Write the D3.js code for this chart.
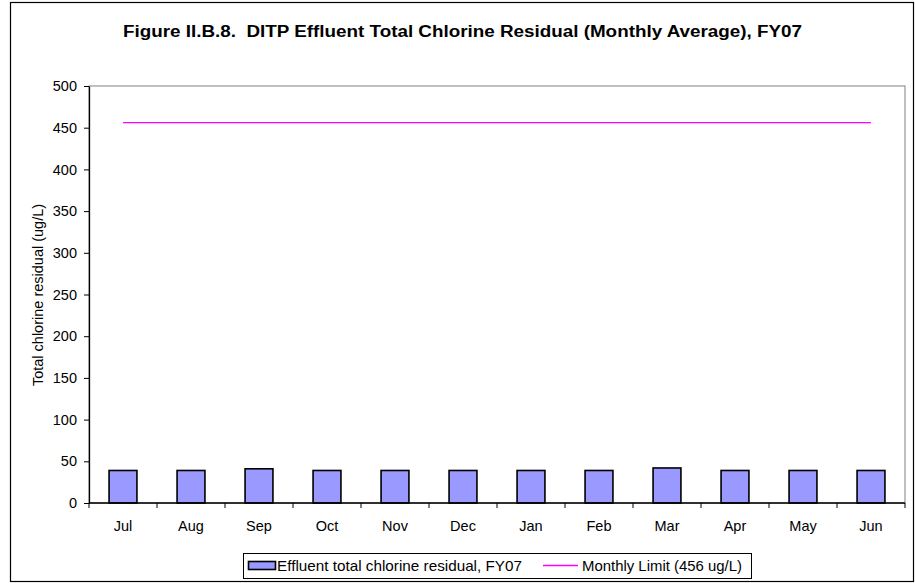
<!DOCTYPE html>
<html>
<head>
<meta charset="utf-8">
<script src="https://cdn.jsdelivr.net/npm/d3@7"></script>
<style>
  body { margin: 0; background: #fff; }
  text { font-family: "Liberation Sans", Arial, sans-serif; white-space: pre; }
</style>
</head>
<body>
<script>
// chart data
var months = ["Jul", "Aug", "Sep", "Oct", "Nov", "Dec", "Jan", "Feb", "Mar", "Apr", "May", "Jun"];
var chlorine = [39, 39, 41, 39, 39, 39, 39, 39, 42, 39, 39, 39];
var monthlyLimit = [456, 456, 456, 456, 456, 456, 456, 456, 456, 456, 456, 456];
var yTicks = [0, 50, 100, 150, 200, 250, 300, 350, 400, 450, 500];

var W = 915, H = 583;
var margin = { top: 86, right: 10, bottom: 80, left: 89 },
    width = W - margin.left - margin.right,
    height = 503 - margin.top;

var svg = d3.select("body").append("svg")
    .attr("width", W)
    .attr("height", H);

// outer frame
svg.append("rect")
    .attr("x", 10.5).attr("y", 2.5)
    .attr("width", 903).attr("height", 579)
    .attr("fill", "#fff").attr("stroke", "#000").attr("stroke-width", 1.2);

svg.append("text")
    .attr("x", 123).attr("y", 37)
    .attr("textLength", 679)
    .attr("lengthAdjust", "spacingAndGlyphs")
    .style("font-size", "16px").style("font-weight", "bold")
    .text("Figure II.B.8.  DITP Effluent Total Chlorine Residual (Monthly Average), FY07");

var g = svg.append("g")
    .attr("transform", "translate(" + margin.left + "," + margin.top + ")");

var x = d3.scaleBand().domain(months).range([0, width]);
var y = d3.scaleLinear().domain([0, 500]).range([height, 0]);

// plot area border (gray)
g.append("rect")
    .attr("x", 0).attr("y", 0)
    .attr("width", width).attr("height", height)
    .attr("fill", "none").attr("stroke", "#808080").attr("stroke-width", 1);

// bars
g.selectAll(".bar")
    .data(chlorine)
    .enter().append("rect")
    .attr("class", "bar")
    .attr("x", function (d, i) { return x(months[i]) + x.bandwidth() * 0.295; })
    .attr("width", x.bandwidth() * 0.41)
    .attr("y", function (d) { return y(d); })
    .attr("height", function (d) { return height - y(d); })
    .attr("fill", "#9999ff")
    .attr("stroke", "#000")
    .attr("stroke-width", 1.6);

// monthly limit line
var line = d3.line()
    .x(function (d, i) { return x(months[i]) + x.bandwidth() / 2; })
    .y(function (d) { return y(d); });

g.append("path")
    .datum(monthlyLimit)
    .attr("d", line)
    .attr("fill", "none")
    .attr("stroke", "#ff00ff")
    .attr("stroke-width", 1.3);

// Y axis
var yAxis = g.append("g")
    .call(d3.axisLeft(y).tickValues(yTicks).tickSize(5).tickPadding(7).tickSizeOuter(0));
yAxis.selectAll("text").style("font-size", "14.5px").style("font-family", "Liberation Sans, Arial, sans-serif").attr("fill", "#000");
yAxis.selectAll("line").attr("stroke", "#000");
yAxis.select(".domain").attr("stroke", "#000").attr("stroke-width", 1.3);

// X axis: ticks between categories
var xAxis = g.append("g")
    .attr("transform", "translate(0," + height + ")");
xAxis.append("line")
    .attr("x1", 0).attr("x2", width)
    .attr("stroke", "#000").attr("stroke-width", 1.3);
xAxis.selectAll(".tk")
    .data(months.concat(["end"]))
    .enter().append("line")
    .attr("x1", function (d, i) { return i * x.step(); })
    .attr("x2", function (d, i) { return i * x.step(); })
    .attr("y1", 0).attr("y2", 5)
    .attr("stroke", "#000");
xAxis.selectAll(".lbl")
    .data(months)
    .enter().append("text")
    .attr("x", function (d) { return x(d) + x.bandwidth() / 2; })
    .attr("y", 28)
    .attr("text-anchor", "middle")
    .style("font-size", "14.5px")
    .text(function (d) { return d; });

// Y label
svg.append("text")
    .attr("transform", "translate(43,295) rotate(-90)")
    .attr("text-anchor", "middle")
    .style("font-size", "14.5px")
    .text("Total chlorine residual (ug/L)");

// legend
var lg = svg.append("g").attr("transform", "translate(243,553)");
lg.append("rect")
    .attr("x", 0.5).attr("y", 0.5).attr("width", 508).attr("height", 25)
    .attr("fill", "#fff").attr("stroke", "#000");
lg.append("rect")
    .attr("x", 5.5).attr("y", 8.5).attr("width", 27).attr("height", 8)
    .attr("fill", "#9999ff").attr("stroke", "#000").attr("stroke-width", 1.6);
lg.append("text")
    .attr("x", 34).attr("y", 18)
    .attr("textLength", 245)
    .attr("lengthAdjust", "spacingAndGlyphs")
    .style("font-size", "15px")
    .text("Effluent total chlorine residual, FY07");
lg.append("line")
    .attr("x1", 300).attr("x2", 335).attr("y1", 12.5).attr("y2", 12.5)
    .attr("stroke", "#ff00ff").attr("stroke-width", 1.3);
lg.append("text")
    .attr("x", 339).attr("y", 18)
    .attr("textLength", 160)
    .attr("lengthAdjust", "spacingAndGlyphs")
    .style("font-size", "15px")
    .text("Monthly Limit (456 ug/L)");
</script>
</body>
</html>
